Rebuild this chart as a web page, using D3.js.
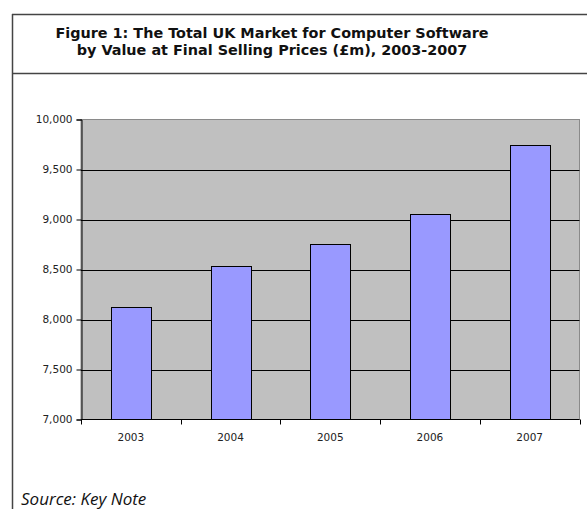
<!DOCTYPE html>
<html>
<head>
<meta charset="utf-8">
<script src="https://cdn.jsdelivr.net/npm/d3@7"></script>
<style>
  html, body { margin: 0; padding: 0; background: #fff; }
  svg { display: block; }
</style>
</head>
<body>
<svg id="chart" width="587" height="509"></svg>
<script>
const titleLines = ["Figure 1: The Total UK Market for Computer Software", "by Value at Final Selling Prices (£m), 2003-2007"];
const sourceText = "Source: Key Note";
const categories = ["2003", "2004", "2005", "2006", "2007"];
const values = [8130, 8540, 8760, 9060, 9750];
const yTicks = [7000, 7500, 8000, 8500, 9000, 9500, 10000];

const svg = d3.select("#chart");
const W = 587, H = 509;

// outer frame
svg.append("line").attr("x1", 12.5).attr("x2", 12.5).attr("y1", 14).attr("y2", H).attr("stroke", "#444").attr("stroke-width", 1.5);
svg.append("line").attr("x1", 12).attr("x2", W).attr("y1", 14.5).attr("y2", 14.5).attr("stroke", "#444").attr("stroke-width", 1.5);
svg.append("line").attr("x1", 12).attr("x2", W).attr("y1", 73.5).attr("y2", 73.5).attr("stroke", "#444").attr("stroke-width", 1.5);

// title
svg.append("g").selectAll("text").data(titleLines).join("text")
  .attr("x", 272).attr("y", (d, i) => 37.5 + i * 17.5)
  .attr("text-anchor", "middle")
  .attr("font-family", "'DejaVu Sans', sans-serif")
  .attr("font-weight", "bold")
  .attr("font-size", 14.4)
  .attr("fill", "#111")
  .text(d => d);

const plot = { left: 81, right: 579.5, top: 119.5, bottom: 419.5 };

const x = d3.scaleBand().domain(categories).range([plot.left, plot.right]).paddingInner(0.6).paddingOuter(0.3);
const xb = d3.scaleBand().domain(categories).range([plot.left, plot.right]);
const y = d3.scaleLinear().domain([7000, 10000]).range([plot.bottom, plot.top]);

// plot background
svg.append("rect").attr("x", plot.left).attr("y", plot.top)
  .attr("width", plot.right - plot.left).attr("height", plot.bottom - plot.top)
  .attr("fill", "#C0C0C0").attr("stroke", "#8a8a8a").attr("stroke-width", 1);

// gridlines
svg.append("g").selectAll("line").data(yTicks.filter(t => t > 7000 && t < 10000)).join("line")
  .attr("x1", plot.left).attr("x2", plot.right)
  .attr("y1", d => Math.round(y(d)) + 0.5).attr("y2", d => Math.round(y(d)) + 0.5)
  .attr("stroke", "#000").attr("stroke-width", 1);

// bars
svg.append("g").selectAll("rect").data(values).join("rect")
  .attr("x", (d, i) => Math.round(x(categories[i])) + 0.5)
  .attr("width", Math.round(x.bandwidth()))
  .attr("y", d => Math.round(y(d)) + 0.5)
  .attr("height", d => y(7000) - Math.round(y(d)) - 0.5)
  .attr("fill", "#9999FF")
  .attr("stroke", "#000").attr("stroke-width", 1);

// y axis
const yAxis = d3.axisLeft(y).tickValues(yTicks).tickSize(5).tickPadding(4).tickFormat(d3.format(","));
const gy = svg.append("g").attr("transform", `translate(${plot.left + 0.5},0)`).call(yAxis);
gy.select(".domain").attr("stroke", "#000");
gy.selectAll(".tick line").attr("stroke", "#000");
gy.selectAll("text").attr("font-family", "'DejaVu Sans', sans-serif").attr("font-size", 10.5).attr("fill", "#222");

// x axis
const gx = svg.append("g").attr("transform", `translate(0,${plot.bottom})`);
gx.append("line").attr("x1", plot.left).attr("x2", plot.right).attr("y1", 0).attr("y2", 0).attr("stroke", "#000");
gx.selectAll("line.tk").data(categories.concat(["end"])).join("line").attr("class", "tk")
  .attr("x1", (d, i) => Math.round(i < categories.length ? xb(d) : plot.right) + 0.5)
  .attr("x2", (d, i) => Math.round(i < categories.length ? xb(d) : plot.right) + 0.5)
  .attr("y1", 0).attr("y2", 5).attr("stroke", "#000");
gx.selectAll("text").data(categories).join("text")
  .attr("x", d => xb(d) + xb.bandwidth() / 2)
  .attr("y", 21)
  .attr("text-anchor", "middle")
  .attr("font-family", "'DejaVu Sans', sans-serif").attr("font-size", 10.5).attr("fill", "#222")
  .text(d => d);

// source
svg.append("text").attr("x", 21).attr("y", 505)
  .attr("font-family", "'Open Sans', sans-serif").attr("font-style", "italic")
  .attr("font-size", 17).attr("fill", "#111")
  .text(sourceText);
</script>
</body>
</html>
